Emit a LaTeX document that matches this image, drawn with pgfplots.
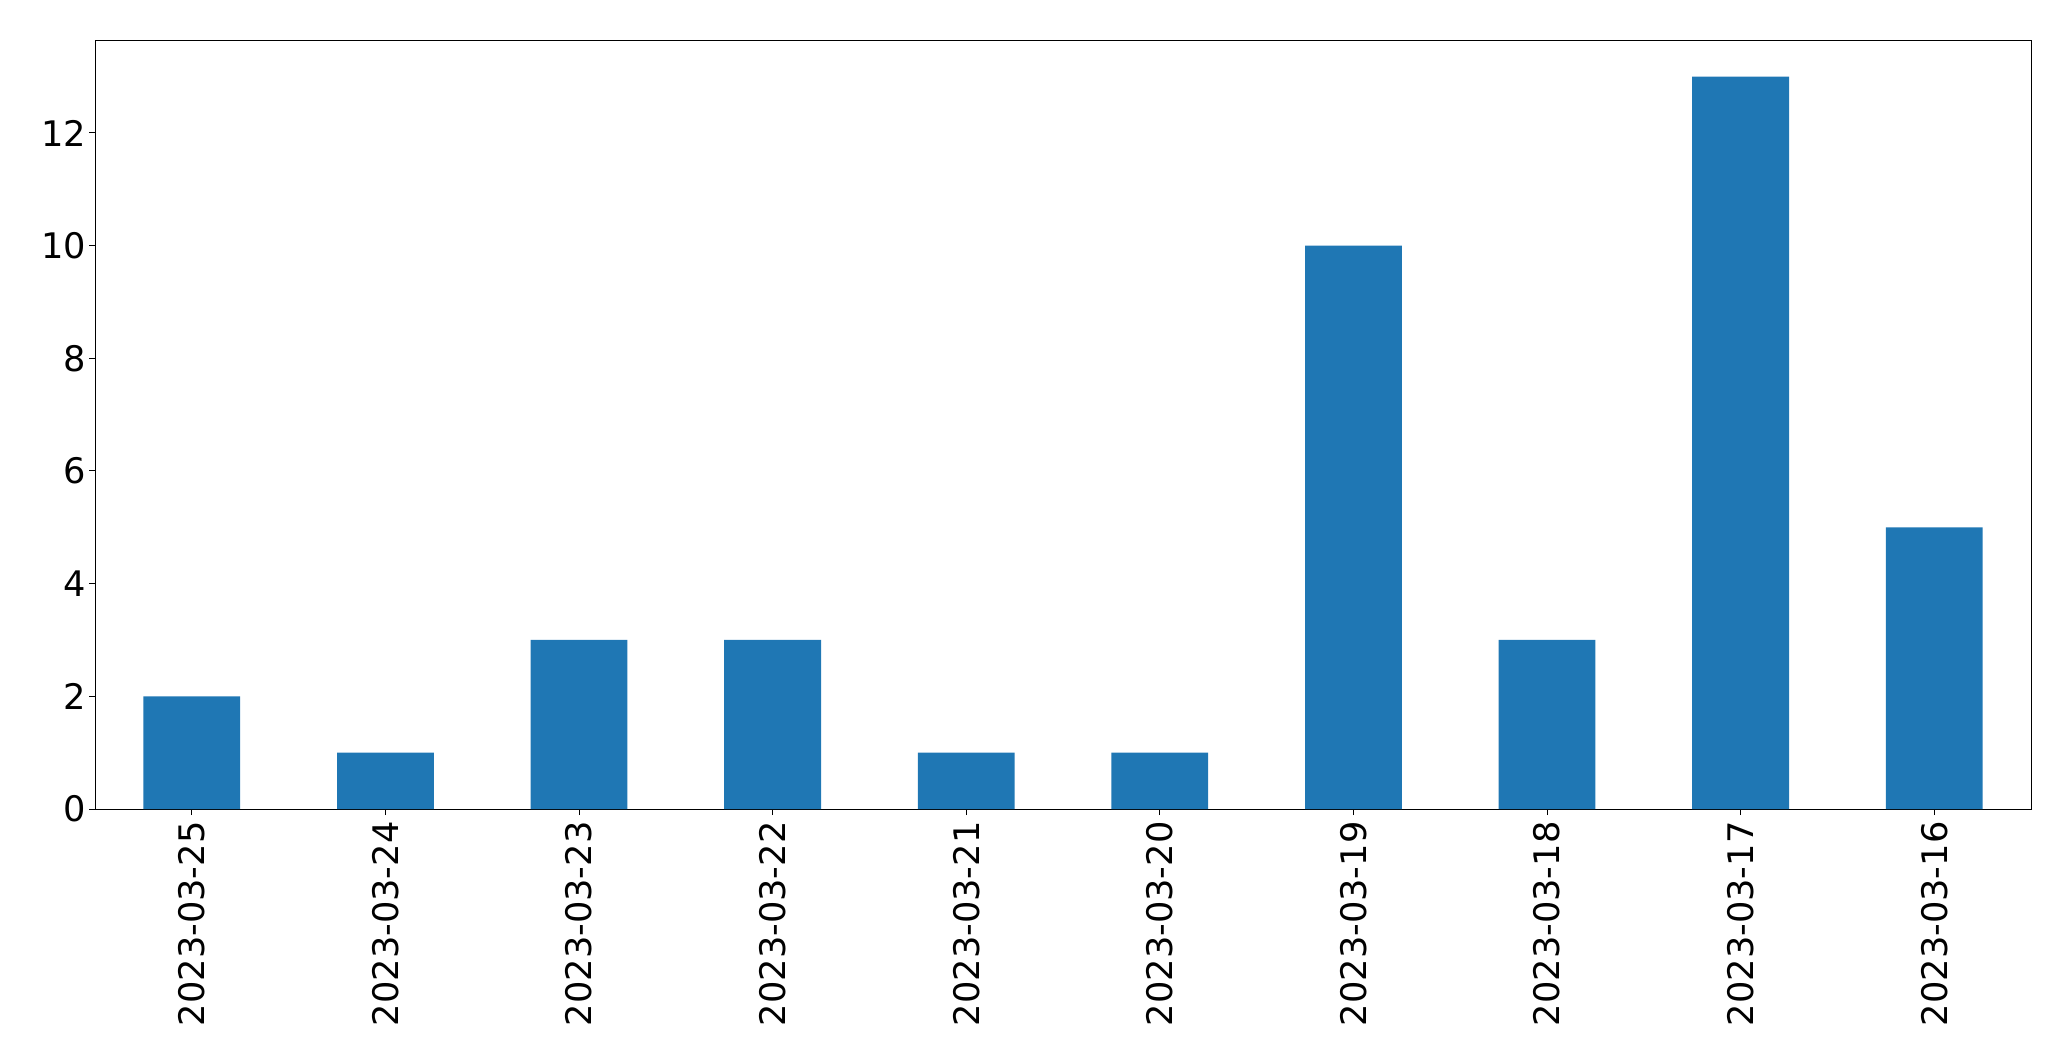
\documentclass[border=0pt]{standalone}
\usepackage{fontspec}
\setmainfont{DejaVu Sans}
\usepackage{pgfplots}
\pgfplotsset{compat=1.18}
\definecolor{mplblue}{HTML}{1F77B4}

\begin{document}
\begin{tikzpicture}
% page frame: 2071x1061 px at 0.5pt per px, axis box at (0,0)
\path[use as bounding box] (-47.5pt,-126pt) rectangle (988pt,404.5pt);
\begin{axis}[
    at={(0,0)}, anchor=south west,
    scale only axis,
    width=968pt, height=384.5pt,
    xmin=-0.5, xmax=9.5,
    ymin=0, ymax=13.65,
    xtick=data,
    xticklabels={2023-03-25,2023-03-24,2023-03-23,2023-03-22,2023-03-21,
                 2023-03-20,2023-03-19,2023-03-18,2023-03-17,2023-03-16},
    ytick={0,2,4,6,8,10,12},
    tick align=outside,
    tick pos=left,
    major tick length=3pt,
    tick style={black, line width=0.5pt},
    axis line style={line width=0.5pt},
    /pgf/number format/assume math mode=true,
    tick label style={font=\fontsize{17.6}{20}\selectfont},
    x tick label style={rotate=90, anchor=east},
    xticklabel shift=-0.3pt,
    yticklabel shift=-2pt,
]
\addplot[ybar, bar width=0.5, fill=mplblue, draw=none] coordinates {
    (0,2) (1,1) (2,3) (3,3) (4,1) (5,1) (6,10) (7,3) (8,13) (9,5)
};
\end{axis}
\end{tikzpicture}
\end{document}
